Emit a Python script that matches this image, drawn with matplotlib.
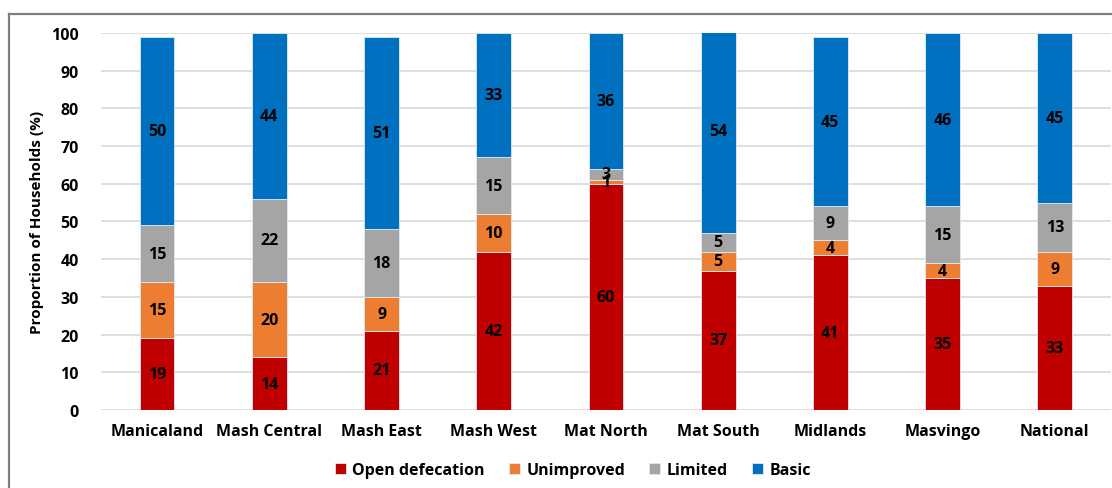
import matplotlib.pyplot as plt
from matplotlib.lines import Line2D

# Sanitation service levels by province (% of households)
provinces = ["Manicaland", "Mash Central", "Mash East", "Mash West", "Mat North",
             "Mat South", "Midlands", "Masvingo", "National"]
open_defecation = [19, 14, 21, 42, 60, 37, 41, 35, 33]
unimproved = [15, 20, 9, 10, 1, 5, 4, 4, 9]
limited = [15, 22, 18, 15, 3, 5, 9, 15, 13]
basic = [50, 44, 51, 33, 36, 54, 45, 46, 45]

series = [("Open defecation", open_defecation, "#C00000"),
          ("Unimproved", unimproved, "#ED7D31"),
          ("Limited", limited, "#A5A5A5"),
          ("Basic", basic, "#0070C0")]

plt.rcParams["font.family"] = ["Open Sans", "DejaVu Sans"]
plt.rcParams["font.weight"] = "bold"

fig = plt.figure(figsize=(11.12, 4.89), dpi=100)
ax = fig.add_axes([0.0908, 0.1595, 0.9082, 0.771])

# outer chart frame (top and left edges)
fx, fy = 9 / 1112, 1 - 15 / 489
fig.lines.append(Line2D([fx, 1.0], [fy, fy], transform=fig.transFigure,
                        color="#7F7F7F", linewidth=1.6))
fig.lines.append(Line2D([fx, fx], [0.0, fy], transform=fig.transFigure,
                        color="#7F7F7F", linewidth=1.6))

x = range(len(provinces))
bottom = [0] * len(provinces)
for name, vals, color in series:
    ax.bar(x, vals, width=0.31, bottom=bottom, color=color, label=name,
           edgecolor="#DDEBF7", linewidth=0.6, zorder=3)
    for i, v in enumerate(vals):
        ax.text(i, bottom[i] + v / 2, str(v), ha="center", va="center",
                fontsize=11.5, fontweight="bold", color="black", zorder=4)
    bottom = [b + v for b, v in zip(bottom, vals)]

ax.set_xlim(-0.5, len(provinces) - 0.5)
ax.set_ylim(0, 100)
ax.set_yticks(range(0, 101, 10))
ax.set_xticks(list(x))
ax.set_xticklabels(provinces, fontsize=11.5, fontweight="bold")
ax.tick_params(axis="both", length=0, labelsize=11.5)
ax.tick_params(axis="x", pad=9)
ax.tick_params(axis="y", pad=16)
for lab in ax.get_yticklabels():
    lab.set_fontweight("bold")
ax.yaxis.grid(True, color="#D9D9D9", linewidth=1.2, zorder=0)
for s in ax.spines.values():
    s.set_visible(False)
ax.set_ylabel("Proportion of Households (%)", fontsize=11, fontweight="bold", labelpad=5)

fig.legend(loc="center", bbox_to_anchor=(0.515, 0.036), ncol=4, frameon=False,
           fontsize=11.5, handlelength=0.7, handleheight=0.7, handletextpad=0.4,
           columnspacing=1.5)

fig.savefig("out.png", dpi=100)
